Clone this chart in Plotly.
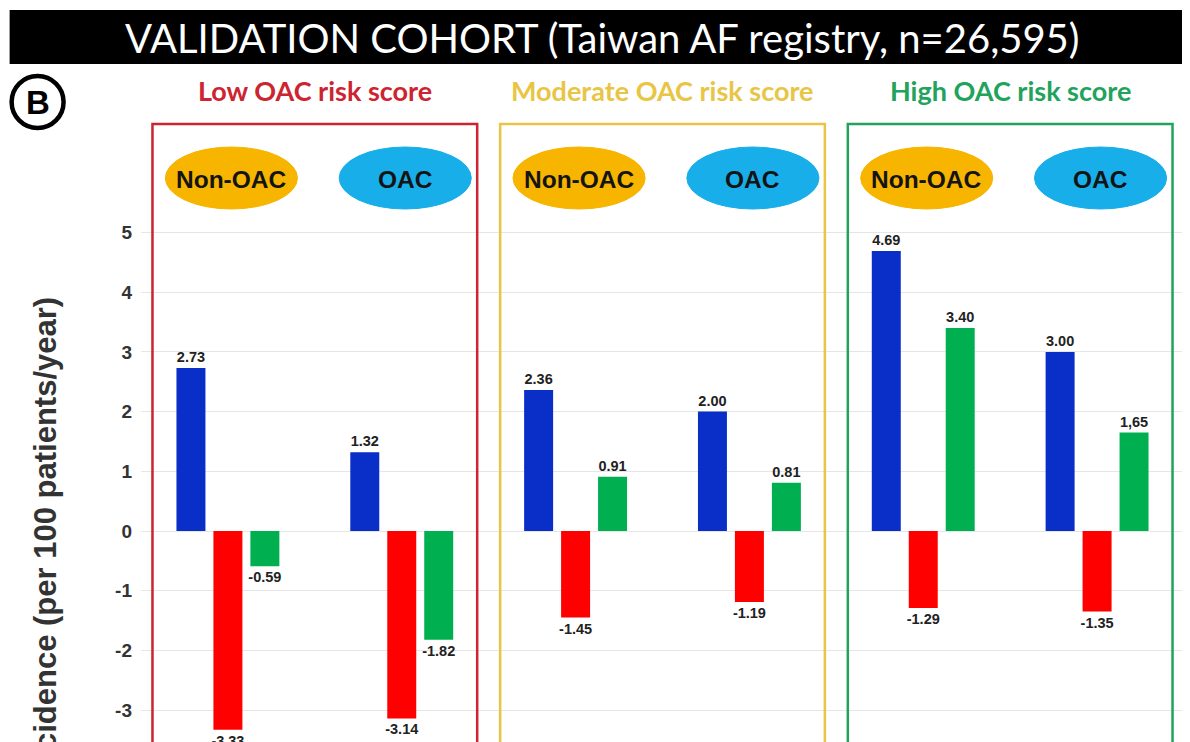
import plotly.graph_objects as go

# ---------------- data ----------------
categories = ["Low Non-OAC", "Low OAC", "Moderate Non-OAC", "Moderate OAC", "High Non-OAC", "High OAC"]
blue_values = [2.73, 1.32, 2.36, 2.00, 4.69, 3.00]
red_values = [-3.33, -3.14, -1.45, -1.19, -1.29, -1.35]
green_values = [-0.59, -1.82, 0.91, 0.81, 3.40, 1.65]
blue_labels = ["2.73", "1.32", "2.36", "2.00", "4.69", "3.00"]
red_labels = ["-3.33", "-3.14", "-1.45", "-1.19", "-1.29", "-1.35"]
green_labels = ["-0.59", "-1.82", "0.91", "0.81", "3.40", "1,65"]
oval_labels = ["Non-OAC", "OAC", "Non-OAC", "OAC", "Non-OAC", "OAC"]
panel_titles = ["Low OAC risk score", "Moderate OAC risk score", "High OAC risk score"]
y_ticks = [-3, -2, -1, 0, 1, 2, 3, 4, 5]
title_text = "VALIDATION COHORT (Taiwan AF registry, n=26,595)"
y_title = "Incidence (per 100 patients/year)"

# ---------------- layout geometry (screen pixels; page body has an 8px margin) ----------------
W, H = 1190, 742
OFF = 8
PLOT_L, PLOT_R, PLOT_T, PLOT_B = 140.5, 1184.5, 122, 742   # screen coords of the plot area
ML, MT = PLOT_L - OFF, PLOT_T - OFF
MR, MB = W - (PLOT_R - OFF), H - (PLOT_B - OFF)
PW, PH = PLOT_R - PLOT_L, PLOT_B - PLOT_T


def px(x):
    return (x - PLOT_L) / PW


def py(y):
    return (PLOT_B - y) / PH


BLUE, RED, GREEN = "#0a2ec8", "#ff0000", "#00b050"
PANEL_COLORS = ["#cc2430", "#e8c544", "#22a35c"]
OVAL_COLORS = ["#f7b500", "#18aeea"]

fig = go.Figure()
lab_font = dict(family="Liberation Sans, Arial", size=14.5, color="#222222", weight="bold")
for vals, labs, col, name in [
    (blue_values, blue_labels, BLUE, "Blue series"),
    (red_values, red_labels, RED, "Red series"),
    (green_values, green_labels, GREEN, "Green series"),
]:
    fig.add_trace(go.Bar(
        x=categories, y=vals, name=name, marker=dict(color=col, line=dict(width=0)),
        text=labs, textposition="outside", textfont=lab_font, cliponaxis=False,
        constraintext="none", showlegend=False,
    ))

shapes = []
annotations = []

# title banner
shapes.append(dict(type="rect", xref="paper", yref="paper", x0=px(9), x1=px(1200), y0=py(64), y1=py(10),
                   fillcolor="black", line=dict(width=0), layer="above"))
annotations.append(dict(xref="paper", yref="paper", x=px(602), y=py(38), text=title_text, showarrow=False,
                        font=dict(family="Lato", size=40, color="white"), xanchor="center", yanchor="middle"))

# circled B
shapes.append(dict(type="circle", xref="paper", yref="paper", x0=px(11), x1=px(63), y0=py(128), y1=py(76),
                   line=dict(color="black", width=4.5)))
annotations.append(dict(xref="paper", yref="paper", x=px(37), y=py(102), text="B", showarrow=False,
                        font=dict(family="Liberation Sans, Arial", size=33, color="black", weight="bold"),
                        xanchor="center", yanchor="middle"))

# panel boxes and titles
for k in range(3):
    i = 2 * k
    shapes.append(dict(type="rect", xref="x", yref="paper", x0=i - 0.434, x1=i + 1.434,
                       y0=py(770), y1=py(124), line=dict(color=PANEL_COLORS[k], width=2.5),
                       fillcolor="rgba(0,0,0,0)"))
    annotations.append(dict(xref="x", yref="paper", x=i + 0.5, y=py(90), text=panel_titles[k],
                            showarrow=False,
                            font=dict(family="Lato", size=27, color=PANEL_COLORS[k], weight="bold"),
                            xanchor="center", yanchor="middle"))

# ovals
for i, lab in enumerate(oval_labels):
    col = OVAL_COLORS[i % 2]
    shapes.append(dict(type="circle", xref="x", yref="paper", x0=i + 0.02 - 0.38, x1=i + 0.02 + 0.38,
                       y0=py(209), y1=py(147), fillcolor=col, line=dict(color=col, width=1)))
    annotations.append(dict(xref="x", yref="paper", x=i + 0.02, y=py(179), text=lab,
                            showarrow=False,
                            font=dict(family="Liberation Sans, Arial", size=24.5, color="#141414", weight="bold"),
                            xanchor="center", yanchor="middle"))

# y-axis title (cut by the bottom edge as in the original)
annotations.append(dict(xref="paper", yref="paper", x=px(44), y=py(537), text=y_title,
                        showarrow=False, textangle=-90,
                        font=dict(family="Liberation Sans, Arial", size=31, color="#333333", weight="bold"),
                        xanchor="center", yanchor="middle"))

y_top = (531 - PLOT_T) / 59.7
y_bot = -(PLOT_B - 531) / 59.7

fig.update_layout(
    width=W, height=H,
    margin=dict(l=ML, r=MR, t=MT, b=MB, pad=0),
    paper_bgcolor="white", plot_bgcolor="white",
    barmode="group", bargap=0.362, bargroupgap=0.216,
    shapes=shapes, annotations=annotations,
    xaxis=dict(type="category", showticklabels=False, showgrid=False, zeroline=False, showline=False,
               range=[-0.5, 5.5]),
    yaxis=dict(range=[y_bot, y_top], tickvals=y_ticks, ticktext=[str(t) for t in y_ticks],
               showgrid=True, gridcolor="#e6e6e6", gridwidth=1, zeroline=True, zerolinecolor="#e6e6e6",
               zerolinewidth=1, showline=False, ticks="", ticklabelstandoff=8,
               tickfont=dict(family="Liberation Sans, Arial", size=19, color="#333333", weight="bold")),
)

fig.write_html("out.html")
